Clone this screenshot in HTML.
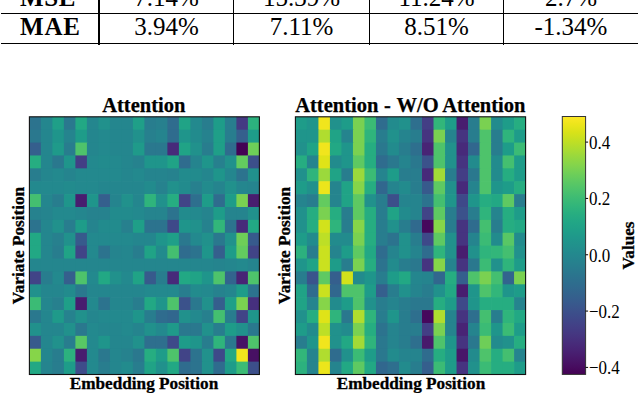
<!DOCTYPE html>
<html><head><meta charset="utf-8"><style>
html,body{margin:0;padding:0;background:#fff;}
body{width:640px;height:393px;position:relative;overflow:hidden;font-family:"Liberation Serif",serif;color:#000;}
.hl{position:absolute;left:1.3px;width:637px;height:1.3px;background:#000;}
.vl{position:absolute;top:0;height:44.5px;width:1.25px;background:#000;}
.x{position:absolute;white-space:nowrap;line-height:1;}
.cc{position:absolute;white-space:nowrap;font-size:25px;line-height:25px;text-align:center;}
.t{position:absolute;white-space:nowrap;font-weight:bold;-webkit-text-stroke:0.25px #000;font-size:20.5px;line-height:20px;text-align:center;}
.lab{position:absolute;white-space:nowrap;font-weight:bold;-webkit-text-stroke:0.3px #000;font-size:17.2px;line-height:17px;text-align:center;}
.tl{position:absolute;left:588.8px;white-space:nowrap;font-size:17.5px;line-height:17.5px;transform:scale(0.97,1.1);transform-origin:0 50%;}
</style></head><body>
<div class="hl" style="top:13.1px"></div>
<div class="hl" style="top:43.2px"></div>
<div class="vl" style="left:98.4px"></div>
<div class="vl" style="left:232.8px"></div>
<div class="vl" style="left:368.6px"></div>
<div class="vl" style="left:503.2px"></div>
<div class="x" style="left:20.00px;top:-15.34px;font-size:25px;font-weight:bold;letter-spacing:0.6px;">MSE</div><div class="x" style="left:20.00px;top:13.86px;font-size:25px;font-weight:bold;letter-spacing:0.8px;">MAE</div><div class="cc" style="left:99px;width:135px;top:-15.34px">7.14%</div><div class="cc" style="left:99px;width:135px;top:13.86px">3.94%</div><div class="cc" style="left:234px;width:135px;top:-15.34px">15.39%</div><div class="cc" style="left:234px;width:135px;top:13.86px">7.11%</div><div class="cc" style="left:369px;width:135px;top:-15.34px">11.24%</div><div class="cc" style="left:369px;width:135px;top:13.86px">8.51%</div><div class="cc" style="left:504px;width:134px;top:-15.34px">2.7%</div><div class="cc" style="left:504px;width:134px;top:13.86px">-1.34%</div>
<svg width="640" height="393" viewBox="0 0 640 393" style="position:absolute;left:0;top:0">
<defs><linearGradient id="cb" x1="0" y1="0" x2="0" y2="1"><stop offset="0.000" stop-color="#fde725"/><stop offset="0.031" stop-color="#ece51b"/><stop offset="0.062" stop-color="#d8e219"/><stop offset="0.094" stop-color="#c2df23"/><stop offset="0.125" stop-color="#addc30"/><stop offset="0.156" stop-color="#98d83e"/><stop offset="0.188" stop-color="#84d44b"/><stop offset="0.219" stop-color="#70cf57"/><stop offset="0.250" stop-color="#5ec962"/><stop offset="0.281" stop-color="#4ec36b"/><stop offset="0.312" stop-color="#3fbc73"/><stop offset="0.344" stop-color="#32b67a"/><stop offset="0.375" stop-color="#28ae80"/><stop offset="0.406" stop-color="#22a785"/><stop offset="0.438" stop-color="#1fa088"/><stop offset="0.469" stop-color="#1f988b"/><stop offset="0.500" stop-color="#21918c"/><stop offset="0.531" stop-color="#23898e"/><stop offset="0.562" stop-color="#26828e"/><stop offset="0.594" stop-color="#297a8e"/><stop offset="0.625" stop-color="#2c728e"/><stop offset="0.656" stop-color="#2f6b8e"/><stop offset="0.688" stop-color="#33638d"/><stop offset="0.719" stop-color="#375b8d"/><stop offset="0.750" stop-color="#3b528b"/><stop offset="0.781" stop-color="#3e4989"/><stop offset="0.812" stop-color="#424086"/><stop offset="0.844" stop-color="#453781"/><stop offset="0.875" stop-color="#472d7b"/><stop offset="0.906" stop-color="#482374"/><stop offset="0.938" stop-color="#48186a"/><stop offset="0.969" stop-color="#470d60"/><stop offset="1.000" stop-color="#440154"/></linearGradient></defs>
<rect x="29.40" y="116.80" width="12.20" height="13.58" fill="#2c738e"/>
<rect x="40.90" y="116.80" width="12.20" height="13.58" fill="#24868e"/>
<rect x="52.40" y="116.80" width="12.20" height="13.58" fill="#1f9f88"/>
<rect x="63.90" y="116.80" width="12.20" height="13.58" fill="#2a788e"/>
<rect x="75.40" y="116.80" width="12.20" height="13.58" fill="#22a884"/>
<rect x="86.90" y="116.80" width="12.20" height="13.58" fill="#24868e"/>
<rect x="98.40" y="116.80" width="12.20" height="13.58" fill="#21918c"/>
<rect x="109.90" y="116.80" width="12.20" height="13.58" fill="#24868e"/>
<rect x="121.40" y="116.80" width="12.20" height="13.58" fill="#24868e"/>
<rect x="132.90" y="116.80" width="12.20" height="13.58" fill="#1f9f88"/>
<rect x="144.40" y="116.80" width="12.20" height="13.58" fill="#287d8e"/>
<rect x="155.90" y="116.80" width="12.20" height="13.58" fill="#27808e"/>
<rect x="167.40" y="116.80" width="12.20" height="13.58" fill="#2f6c8e"/>
<rect x="178.90" y="116.80" width="12.20" height="13.58" fill="#20a386"/>
<rect x="190.40" y="116.80" width="12.20" height="13.58" fill="#23898e"/>
<rect x="201.90" y="116.80" width="12.20" height="13.58" fill="#287d8e"/>
<rect x="213.40" y="116.80" width="12.20" height="13.58" fill="#1e9c89"/>
<rect x="224.90" y="116.80" width="12.20" height="13.58" fill="#287d8e"/>
<rect x="236.40" y="116.80" width="12.20" height="13.58" fill="#443a83"/>
<rect x="247.90" y="116.80" width="11.50" height="13.58" fill="#2cb17e"/>
<rect x="29.40" y="129.69" width="12.20" height="13.58" fill="#2a788e"/>
<rect x="40.90" y="129.69" width="12.20" height="13.58" fill="#24868e"/>
<rect x="52.40" y="129.69" width="12.20" height="13.58" fill="#1f958b"/>
<rect x="63.90" y="129.69" width="12.20" height="13.58" fill="#25848e"/>
<rect x="75.40" y="129.69" width="12.20" height="13.58" fill="#1e9c89"/>
<rect x="86.90" y="129.69" width="12.20" height="13.58" fill="#24868e"/>
<rect x="98.40" y="129.69" width="12.20" height="13.58" fill="#23898e"/>
<rect x="109.90" y="129.69" width="12.20" height="13.58" fill="#24868e"/>
<rect x="121.40" y="129.69" width="12.20" height="13.58" fill="#24868e"/>
<rect x="132.90" y="129.69" width="12.20" height="13.58" fill="#21918c"/>
<rect x="144.40" y="129.69" width="12.20" height="13.58" fill="#27808e"/>
<rect x="155.90" y="129.69" width="12.20" height="13.58" fill="#25848e"/>
<rect x="167.40" y="129.69" width="12.20" height="13.58" fill="#2f6c8e"/>
<rect x="178.90" y="129.69" width="12.20" height="13.58" fill="#1f958b"/>
<rect x="190.40" y="129.69" width="12.20" height="13.58" fill="#228b8d"/>
<rect x="201.90" y="129.69" width="12.20" height="13.58" fill="#26828e"/>
<rect x="213.40" y="129.69" width="12.20" height="13.58" fill="#1f9f88"/>
<rect x="224.90" y="129.69" width="12.20" height="13.58" fill="#287d8e"/>
<rect x="236.40" y="129.69" width="12.20" height="13.58" fill="#355f8d"/>
<rect x="247.90" y="129.69" width="11.50" height="13.58" fill="#1e9c89"/>
<rect x="29.40" y="142.57" width="12.20" height="13.58" fill="#355f8d"/>
<rect x="40.90" y="142.57" width="12.20" height="13.58" fill="#24868e"/>
<rect x="52.40" y="142.57" width="12.20" height="13.58" fill="#1f9a8a"/>
<rect x="63.90" y="142.57" width="12.20" height="13.58" fill="#287d8e"/>
<rect x="75.40" y="142.57" width="12.20" height="13.58" fill="#4ec36b"/>
<rect x="86.90" y="142.57" width="12.20" height="13.58" fill="#24868e"/>
<rect x="98.40" y="142.57" width="12.20" height="13.58" fill="#23898e"/>
<rect x="109.90" y="142.57" width="12.20" height="13.58" fill="#24868e"/>
<rect x="121.40" y="142.57" width="12.20" height="13.58" fill="#24868e"/>
<rect x="132.90" y="142.57" width="12.20" height="13.58" fill="#1f9a8a"/>
<rect x="144.40" y="142.57" width="12.20" height="13.58" fill="#2a788e"/>
<rect x="155.90" y="142.57" width="12.20" height="13.58" fill="#2a788e"/>
<rect x="167.40" y="142.57" width="12.20" height="13.58" fill="#472a7a"/>
<rect x="178.90" y="142.57" width="12.20" height="13.58" fill="#20a386"/>
<rect x="190.40" y="142.57" width="12.20" height="13.58" fill="#21918c"/>
<rect x="201.90" y="142.57" width="12.20" height="13.58" fill="#287d8e"/>
<rect x="213.40" y="142.57" width="12.20" height="13.58" fill="#1f9f88"/>
<rect x="224.90" y="142.57" width="12.20" height="13.58" fill="#2f6c8e"/>
<rect x="236.40" y="142.57" width="12.20" height="13.58" fill="#440154"/>
<rect x="247.90" y="142.57" width="11.50" height="13.58" fill="#6ece58"/>
<rect x="29.40" y="155.45" width="12.20" height="13.58" fill="#26ad81"/>
<rect x="40.90" y="155.45" width="12.20" height="13.58" fill="#24868e"/>
<rect x="52.40" y="155.45" width="12.20" height="13.58" fill="#2a788e"/>
<rect x="63.90" y="155.45" width="12.20" height="13.58" fill="#1f958b"/>
<rect x="75.40" y="155.45" width="12.20" height="13.58" fill="#433e85"/>
<rect x="86.90" y="155.45" width="12.20" height="13.58" fill="#23898e"/>
<rect x="98.40" y="155.45" width="12.20" height="13.58" fill="#228b8d"/>
<rect x="109.90" y="155.45" width="12.20" height="13.58" fill="#23898e"/>
<rect x="121.40" y="155.45" width="12.20" height="13.58" fill="#24868e"/>
<rect x="132.90" y="155.45" width="12.20" height="13.58" fill="#26828e"/>
<rect x="144.40" y="155.45" width="12.20" height="13.58" fill="#1f958b"/>
<rect x="155.90" y="155.45" width="12.20" height="13.58" fill="#1f958b"/>
<rect x="167.40" y="155.45" width="12.20" height="13.58" fill="#20a386"/>
<rect x="178.90" y="155.45" width="12.20" height="13.58" fill="#2f6c8e"/>
<rect x="190.40" y="155.45" width="12.20" height="13.58" fill="#25848e"/>
<rect x="201.90" y="155.45" width="12.20" height="13.58" fill="#1f958b"/>
<rect x="213.40" y="155.45" width="12.20" height="13.58" fill="#27808e"/>
<rect x="224.90" y="155.45" width="12.20" height="13.58" fill="#21918c"/>
<rect x="236.40" y="155.45" width="12.20" height="13.58" fill="#63cb5f"/>
<rect x="247.90" y="155.45" width="11.50" height="13.58" fill="#3c4f8a"/>
<rect x="29.40" y="168.34" width="12.20" height="13.58" fill="#287d8e"/>
<rect x="40.90" y="168.34" width="12.20" height="13.58" fill="#24868e"/>
<rect x="52.40" y="168.34" width="12.20" height="13.58" fill="#23898e"/>
<rect x="63.90" y="168.34" width="12.20" height="13.58" fill="#25848e"/>
<rect x="75.40" y="168.34" width="12.20" height="13.58" fill="#23898e"/>
<rect x="86.90" y="168.34" width="12.20" height="13.58" fill="#23898e"/>
<rect x="98.40" y="168.34" width="12.20" height="13.58" fill="#23898e"/>
<rect x="109.90" y="168.34" width="12.20" height="13.58" fill="#23898e"/>
<rect x="121.40" y="168.34" width="12.20" height="13.58" fill="#24868e"/>
<rect x="132.90" y="168.34" width="12.20" height="13.58" fill="#23898e"/>
<rect x="144.40" y="168.34" width="12.20" height="13.58" fill="#25848e"/>
<rect x="155.90" y="168.34" width="12.20" height="13.58" fill="#25848e"/>
<rect x="167.40" y="168.34" width="12.20" height="13.58" fill="#26828e"/>
<rect x="178.90" y="168.34" width="12.20" height="13.58" fill="#228b8d"/>
<rect x="190.40" y="168.34" width="12.20" height="13.58" fill="#228b8d"/>
<rect x="201.90" y="168.34" width="12.20" height="13.58" fill="#24868e"/>
<rect x="213.40" y="168.34" width="12.20" height="13.58" fill="#1f958b"/>
<rect x="224.90" y="168.34" width="12.20" height="13.58" fill="#24868e"/>
<rect x="236.40" y="168.34" width="12.20" height="13.58" fill="#2c738e"/>
<rect x="247.90" y="168.34" width="11.50" height="13.58" fill="#21918c"/>
<rect x="29.40" y="181.22" width="12.20" height="13.58" fill="#23898e"/>
<rect x="40.90" y="181.22" width="12.20" height="13.58" fill="#23898e"/>
<rect x="52.40" y="181.22" width="12.20" height="13.58" fill="#23898e"/>
<rect x="63.90" y="181.22" width="12.20" height="13.58" fill="#228b8d"/>
<rect x="75.40" y="181.22" width="12.20" height="13.58" fill="#23898e"/>
<rect x="86.90" y="181.22" width="12.20" height="13.58" fill="#23898e"/>
<rect x="98.40" y="181.22" width="12.20" height="13.58" fill="#24868e"/>
<rect x="109.90" y="181.22" width="12.20" height="13.58" fill="#24868e"/>
<rect x="121.40" y="181.22" width="12.20" height="13.58" fill="#24868e"/>
<rect x="132.90" y="181.22" width="12.20" height="13.58" fill="#24868e"/>
<rect x="144.40" y="181.22" width="12.20" height="13.58" fill="#228b8d"/>
<rect x="155.90" y="181.22" width="12.20" height="13.58" fill="#26828e"/>
<rect x="167.40" y="181.22" width="12.20" height="13.58" fill="#21918c"/>
<rect x="178.90" y="181.22" width="12.20" height="13.58" fill="#228b8d"/>
<rect x="190.40" y="181.22" width="12.20" height="13.58" fill="#27808e"/>
<rect x="201.90" y="181.22" width="12.20" height="13.58" fill="#228b8d"/>
<rect x="213.40" y="181.22" width="12.20" height="13.58" fill="#25848e"/>
<rect x="224.90" y="181.22" width="12.20" height="13.58" fill="#21918c"/>
<rect x="236.40" y="181.22" width="12.20" height="13.58" fill="#24868e"/>
<rect x="247.90" y="181.22" width="11.50" height="13.58" fill="#25848e"/>
<rect x="29.40" y="194.11" width="12.20" height="13.58" fill="#44bf70"/>
<rect x="40.90" y="194.11" width="12.20" height="13.58" fill="#24868e"/>
<rect x="52.40" y="194.11" width="12.20" height="13.58" fill="#287d8e"/>
<rect x="63.90" y="194.11" width="12.20" height="13.58" fill="#1f958b"/>
<rect x="75.40" y="194.11" width="12.20" height="13.58" fill="#481d6f"/>
<rect x="86.90" y="194.11" width="12.20" height="13.58" fill="#1f958b"/>
<rect x="98.40" y="194.11" width="12.20" height="13.58" fill="#355f8d"/>
<rect x="109.90" y="194.11" width="12.20" height="13.58" fill="#25848e"/>
<rect x="121.40" y="194.11" width="12.20" height="13.58" fill="#21918c"/>
<rect x="132.90" y="194.11" width="12.20" height="13.58" fill="#24868e"/>
<rect x="144.40" y="194.11" width="12.20" height="13.58" fill="#2fb47c"/>
<rect x="155.90" y="194.11" width="12.20" height="13.58" fill="#21918c"/>
<rect x="167.40" y="194.11" width="12.20" height="13.58" fill="#26ad81"/>
<rect x="178.90" y="194.11" width="12.20" height="13.58" fill="#414487"/>
<rect x="190.40" y="194.11" width="12.20" height="13.58" fill="#2e6f8e"/>
<rect x="201.90" y="194.11" width="12.20" height="13.58" fill="#1e9c89"/>
<rect x="213.40" y="194.11" width="12.20" height="13.58" fill="#2f6c8e"/>
<rect x="224.90" y="194.11" width="12.20" height="13.58" fill="#1e9c89"/>
<rect x="236.40" y="194.11" width="12.20" height="13.58" fill="#7ad151"/>
<rect x="247.90" y="194.11" width="11.50" height="13.58" fill="#481d6f"/>
<rect x="29.40" y="207.00" width="12.20" height="13.58" fill="#26828e"/>
<rect x="40.90" y="207.00" width="12.20" height="13.58" fill="#25848e"/>
<rect x="52.40" y="207.00" width="12.20" height="13.58" fill="#23898e"/>
<rect x="63.90" y="207.00" width="12.20" height="13.58" fill="#23898e"/>
<rect x="75.40" y="207.00" width="12.20" height="13.58" fill="#24868e"/>
<rect x="86.90" y="207.00" width="12.20" height="13.58" fill="#26828e"/>
<rect x="98.40" y="207.00" width="12.20" height="13.58" fill="#26828e"/>
<rect x="109.90" y="207.00" width="12.20" height="13.58" fill="#228b8d"/>
<rect x="121.40" y="207.00" width="12.20" height="13.58" fill="#228b8d"/>
<rect x="132.90" y="207.00" width="12.20" height="13.58" fill="#23898e"/>
<rect x="144.40" y="207.00" width="12.20" height="13.58" fill="#25848e"/>
<rect x="155.90" y="207.00" width="12.20" height="13.58" fill="#25848e"/>
<rect x="167.40" y="207.00" width="12.20" height="13.58" fill="#2c738e"/>
<rect x="178.90" y="207.00" width="12.20" height="13.58" fill="#228b8d"/>
<rect x="190.40" y="207.00" width="12.20" height="13.58" fill="#23898e"/>
<rect x="201.90" y="207.00" width="12.20" height="13.58" fill="#25848e"/>
<rect x="213.40" y="207.00" width="12.20" height="13.58" fill="#1e9c89"/>
<rect x="224.90" y="207.00" width="12.20" height="13.58" fill="#25848e"/>
<rect x="236.40" y="207.00" width="12.20" height="13.58" fill="#25848e"/>
<rect x="247.90" y="207.00" width="11.50" height="13.58" fill="#21918c"/>
<rect x="29.40" y="219.88" width="12.20" height="13.58" fill="#2c738e"/>
<rect x="40.90" y="219.88" width="12.20" height="13.58" fill="#24868e"/>
<rect x="52.40" y="219.88" width="12.20" height="13.58" fill="#21918c"/>
<rect x="63.90" y="219.88" width="12.20" height="13.58" fill="#287d8e"/>
<rect x="75.40" y="219.88" width="12.20" height="13.58" fill="#1e9c89"/>
<rect x="86.90" y="219.88" width="12.20" height="13.58" fill="#25848e"/>
<rect x="98.40" y="219.88" width="12.20" height="13.58" fill="#228b8d"/>
<rect x="109.90" y="219.88" width="12.20" height="13.58" fill="#228b8d"/>
<rect x="121.40" y="219.88" width="12.20" height="13.58" fill="#27808e"/>
<rect x="132.90" y="219.88" width="12.20" height="13.58" fill="#1f9f88"/>
<rect x="144.40" y="219.88" width="12.20" height="13.58" fill="#2c738e"/>
<rect x="155.90" y="219.88" width="12.20" height="13.58" fill="#2c738e"/>
<rect x="167.40" y="219.88" width="12.20" height="13.58" fill="#3e4989"/>
<rect x="178.90" y="219.88" width="12.20" height="13.58" fill="#1f958b"/>
<rect x="190.40" y="219.88" width="12.20" height="13.58" fill="#21918c"/>
<rect x="201.90" y="219.88" width="12.20" height="13.58" fill="#26828e"/>
<rect x="213.40" y="219.88" width="12.20" height="13.58" fill="#32b67a"/>
<rect x="224.90" y="219.88" width="12.20" height="13.58" fill="#2c738e"/>
<rect x="236.40" y="219.88" width="12.20" height="13.58" fill="#472a7a"/>
<rect x="247.90" y="219.88" width="11.50" height="13.58" fill="#22a884"/>
<rect x="29.40" y="232.76" width="12.20" height="13.58" fill="#22a884"/>
<rect x="40.90" y="232.76" width="12.20" height="13.58" fill="#24868e"/>
<rect x="52.40" y="232.76" width="12.20" height="13.58" fill="#27808e"/>
<rect x="63.90" y="232.76" width="12.20" height="13.58" fill="#21918c"/>
<rect x="75.40" y="232.76" width="12.20" height="13.58" fill="#375a8c"/>
<rect x="86.90" y="232.76" width="12.20" height="13.58" fill="#23898e"/>
<rect x="98.40" y="232.76" width="12.20" height="13.58" fill="#23898e"/>
<rect x="109.90" y="232.76" width="12.20" height="13.58" fill="#23898e"/>
<rect x="121.40" y="232.76" width="12.20" height="13.58" fill="#23898e"/>
<rect x="132.90" y="232.76" width="12.20" height="13.58" fill="#24868e"/>
<rect x="144.40" y="232.76" width="12.20" height="13.58" fill="#24868e"/>
<rect x="155.90" y="232.76" width="12.20" height="13.58" fill="#1f958b"/>
<rect x="167.40" y="232.76" width="12.20" height="13.58" fill="#1f9f88"/>
<rect x="178.90" y="232.76" width="12.20" height="13.58" fill="#2a788e"/>
<rect x="190.40" y="232.76" width="12.20" height="13.58" fill="#23898e"/>
<rect x="201.90" y="232.76" width="12.20" height="13.58" fill="#21918c"/>
<rect x="213.40" y="232.76" width="12.20" height="13.58" fill="#2a788e"/>
<rect x="224.90" y="232.76" width="12.20" height="13.58" fill="#21918c"/>
<rect x="236.40" y="232.76" width="12.20" height="13.58" fill="#6ece58"/>
<rect x="247.90" y="232.76" width="11.50" height="13.58" fill="#375a8c"/>
<rect x="29.40" y="245.65" width="12.20" height="13.58" fill="#22a884"/>
<rect x="40.90" y="245.65" width="12.20" height="13.58" fill="#24868e"/>
<rect x="52.40" y="245.65" width="12.20" height="13.58" fill="#287d8e"/>
<rect x="63.90" y="245.65" width="12.20" height="13.58" fill="#20a386"/>
<rect x="75.40" y="245.65" width="12.20" height="13.58" fill="#414487"/>
<rect x="86.90" y="245.65" width="12.20" height="13.58" fill="#23898e"/>
<rect x="98.40" y="245.65" width="12.20" height="13.58" fill="#2c738e"/>
<rect x="109.90" y="245.65" width="12.20" height="13.58" fill="#25848e"/>
<rect x="121.40" y="245.65" width="12.20" height="13.58" fill="#24868e"/>
<rect x="132.90" y="245.65" width="12.20" height="13.58" fill="#287d8e"/>
<rect x="144.40" y="245.65" width="12.20" height="13.58" fill="#20a386"/>
<rect x="155.90" y="245.65" width="12.20" height="13.58" fill="#228b8d"/>
<rect x="167.40" y="245.65" width="12.20" height="13.58" fill="#44bf70"/>
<rect x="178.90" y="245.65" width="12.20" height="13.58" fill="#2f6c8e"/>
<rect x="190.40" y="245.65" width="12.20" height="13.58" fill="#2c738e"/>
<rect x="201.90" y="245.65" width="12.20" height="13.58" fill="#1f958b"/>
<rect x="213.40" y="245.65" width="12.20" height="13.58" fill="#355f8d"/>
<rect x="224.90" y="245.65" width="12.20" height="13.58" fill="#1e9c89"/>
<rect x="236.40" y="245.65" width="12.20" height="13.58" fill="#63cb5f"/>
<rect x="247.90" y="245.65" width="11.50" height="13.58" fill="#414487"/>
<rect x="29.40" y="258.53" width="12.20" height="13.58" fill="#24868e"/>
<rect x="40.90" y="258.53" width="12.20" height="13.58" fill="#24868e"/>
<rect x="52.40" y="258.53" width="12.20" height="13.58" fill="#24868e"/>
<rect x="63.90" y="258.53" width="12.20" height="13.58" fill="#24868e"/>
<rect x="75.40" y="258.53" width="12.20" height="13.58" fill="#24868e"/>
<rect x="86.90" y="258.53" width="12.20" height="13.58" fill="#24868e"/>
<rect x="98.40" y="258.53" width="12.20" height="13.58" fill="#24868e"/>
<rect x="109.90" y="258.53" width="12.20" height="13.58" fill="#24868e"/>
<rect x="121.40" y="258.53" width="12.20" height="13.58" fill="#24868e"/>
<rect x="132.90" y="258.53" width="12.20" height="13.58" fill="#24868e"/>
<rect x="144.40" y="258.53" width="12.20" height="13.58" fill="#24868e"/>
<rect x="155.90" y="258.53" width="12.20" height="13.58" fill="#24868e"/>
<rect x="167.40" y="258.53" width="12.20" height="13.58" fill="#24868e"/>
<rect x="178.90" y="258.53" width="12.20" height="13.58" fill="#24868e"/>
<rect x="190.40" y="258.53" width="12.20" height="13.58" fill="#24868e"/>
<rect x="201.90" y="258.53" width="12.20" height="13.58" fill="#24868e"/>
<rect x="213.40" y="258.53" width="12.20" height="13.58" fill="#25848e"/>
<rect x="224.90" y="258.53" width="12.20" height="13.58" fill="#24868e"/>
<rect x="236.40" y="258.53" width="12.20" height="13.58" fill="#23898e"/>
<rect x="247.90" y="258.53" width="11.50" height="13.58" fill="#25848e"/>
<rect x="29.40" y="271.42" width="12.20" height="13.58" fill="#414487"/>
<rect x="40.90" y="271.42" width="12.20" height="13.58" fill="#287d8e"/>
<rect x="52.40" y="271.42" width="12.20" height="13.58" fill="#23898e"/>
<rect x="63.90" y="271.42" width="12.20" height="13.58" fill="#355f8d"/>
<rect x="75.40" y="271.42" width="12.20" height="13.58" fill="#4ec36b"/>
<rect x="86.90" y="271.42" width="12.20" height="13.58" fill="#23898e"/>
<rect x="98.40" y="271.42" width="12.20" height="13.58" fill="#22a884"/>
<rect x="109.90" y="271.42" width="12.20" height="13.58" fill="#21918c"/>
<rect x="121.40" y="271.42" width="12.20" height="13.58" fill="#23898e"/>
<rect x="132.90" y="271.42" width="12.20" height="13.58" fill="#20a386"/>
<rect x="144.40" y="271.42" width="12.20" height="13.58" fill="#375a8c"/>
<rect x="155.90" y="271.42" width="12.20" height="13.58" fill="#287d8e"/>
<rect x="167.40" y="271.42" width="12.20" height="13.58" fill="#472a7a"/>
<rect x="178.90" y="271.42" width="12.20" height="13.58" fill="#22a884"/>
<rect x="190.40" y="271.42" width="12.20" height="13.58" fill="#20a386"/>
<rect x="201.90" y="271.42" width="12.20" height="13.58" fill="#1f958b"/>
<rect x="213.40" y="271.42" width="12.20" height="13.58" fill="#4ec36b"/>
<rect x="224.90" y="271.42" width="12.20" height="13.58" fill="#32648e"/>
<rect x="236.40" y="271.42" width="12.20" height="13.58" fill="#482475"/>
<rect x="247.90" y="271.42" width="11.50" height="13.58" fill="#4ec36b"/>
<rect x="29.40" y="284.31" width="12.20" height="13.58" fill="#21918c"/>
<rect x="40.90" y="284.31" width="12.20" height="13.58" fill="#24868e"/>
<rect x="52.40" y="284.31" width="12.20" height="13.58" fill="#24868e"/>
<rect x="63.90" y="284.31" width="12.20" height="13.58" fill="#228b8d"/>
<rect x="75.40" y="284.31" width="12.20" height="13.58" fill="#2a788e"/>
<rect x="86.90" y="284.31" width="12.20" height="13.58" fill="#24868e"/>
<rect x="98.40" y="284.31" width="12.20" height="13.58" fill="#24868e"/>
<rect x="109.90" y="284.31" width="12.20" height="13.58" fill="#24868e"/>
<rect x="121.40" y="284.31" width="12.20" height="13.58" fill="#24868e"/>
<rect x="132.90" y="284.31" width="12.20" height="13.58" fill="#24868e"/>
<rect x="144.40" y="284.31" width="12.20" height="13.58" fill="#23898e"/>
<rect x="155.90" y="284.31" width="12.20" height="13.58" fill="#23898e"/>
<rect x="167.40" y="284.31" width="12.20" height="13.58" fill="#23898e"/>
<rect x="178.90" y="284.31" width="12.20" height="13.58" fill="#287d8e"/>
<rect x="190.40" y="284.31" width="12.20" height="13.58" fill="#228b8d"/>
<rect x="201.90" y="284.31" width="12.20" height="13.58" fill="#23898e"/>
<rect x="213.40" y="284.31" width="12.20" height="13.58" fill="#26828e"/>
<rect x="224.90" y="284.31" width="12.20" height="13.58" fill="#24868e"/>
<rect x="236.40" y="284.31" width="12.20" height="13.58" fill="#1e9c89"/>
<rect x="247.90" y="284.31" width="11.50" height="13.58" fill="#2c738e"/>
<rect x="29.40" y="297.19" width="12.20" height="13.58" fill="#3bbb75"/>
<rect x="40.90" y="297.19" width="12.20" height="13.58" fill="#24868e"/>
<rect x="52.40" y="297.19" width="12.20" height="13.58" fill="#27808e"/>
<rect x="63.90" y="297.19" width="12.20" height="13.58" fill="#1f9f88"/>
<rect x="75.40" y="297.19" width="12.20" height="13.58" fill="#481d6f"/>
<rect x="86.90" y="297.19" width="12.20" height="13.58" fill="#23898e"/>
<rect x="98.40" y="297.19" width="12.20" height="13.58" fill="#2c738e"/>
<rect x="109.90" y="297.19" width="12.20" height="13.58" fill="#24868e"/>
<rect x="121.40" y="297.19" width="12.20" height="13.58" fill="#24868e"/>
<rect x="132.90" y="297.19" width="12.20" height="13.58" fill="#287d8e"/>
<rect x="144.40" y="297.19" width="12.20" height="13.58" fill="#22a884"/>
<rect x="155.90" y="297.19" width="12.20" height="13.58" fill="#1f958b"/>
<rect x="167.40" y="297.19" width="12.20" height="13.58" fill="#4ec36b"/>
<rect x="178.90" y="297.19" width="12.20" height="13.58" fill="#3b528b"/>
<rect x="190.40" y="297.19" width="12.20" height="13.58" fill="#2a788e"/>
<rect x="201.90" y="297.19" width="12.20" height="13.58" fill="#21918c"/>
<rect x="213.40" y="297.19" width="12.20" height="13.58" fill="#355f8d"/>
<rect x="224.90" y="297.19" width="12.20" height="13.58" fill="#1f9f88"/>
<rect x="236.40" y="297.19" width="12.20" height="13.58" fill="#7ad151"/>
<rect x="247.90" y="297.19" width="11.50" height="13.58" fill="#46307e"/>
<rect x="29.40" y="310.07" width="12.20" height="13.58" fill="#2a788e"/>
<rect x="40.90" y="310.07" width="12.20" height="13.58" fill="#24868e"/>
<rect x="52.40" y="310.07" width="12.20" height="13.58" fill="#1f9a8a"/>
<rect x="63.90" y="310.07" width="12.20" height="13.58" fill="#26828e"/>
<rect x="75.40" y="310.07" width="12.20" height="13.58" fill="#21918c"/>
<rect x="86.90" y="310.07" width="12.20" height="13.58" fill="#24868e"/>
<rect x="98.40" y="310.07" width="12.20" height="13.58" fill="#23898e"/>
<rect x="109.90" y="310.07" width="12.20" height="13.58" fill="#23898e"/>
<rect x="121.40" y="310.07" width="12.20" height="13.58" fill="#23898e"/>
<rect x="132.90" y="310.07" width="12.20" height="13.58" fill="#1f958b"/>
<rect x="144.40" y="310.07" width="12.20" height="13.58" fill="#287d8e"/>
<rect x="155.90" y="310.07" width="12.20" height="13.58" fill="#2f6c8e"/>
<rect x="167.40" y="310.07" width="12.20" height="13.58" fill="#31678e"/>
<rect x="178.90" y="310.07" width="12.20" height="13.58" fill="#21918c"/>
<rect x="190.40" y="310.07" width="12.20" height="13.58" fill="#23898e"/>
<rect x="201.90" y="310.07" width="12.20" height="13.58" fill="#27808e"/>
<rect x="213.40" y="310.07" width="12.20" height="13.58" fill="#44bf70"/>
<rect x="224.90" y="310.07" width="12.20" height="13.58" fill="#287d8e"/>
<rect x="236.40" y="310.07" width="12.20" height="13.58" fill="#414487"/>
<rect x="247.90" y="310.07" width="11.50" height="13.58" fill="#1f958b"/>
<rect x="29.40" y="322.96" width="12.20" height="13.58" fill="#21918c"/>
<rect x="40.90" y="322.96" width="12.20" height="13.58" fill="#24868e"/>
<rect x="52.40" y="322.96" width="12.20" height="13.58" fill="#24868e"/>
<rect x="63.90" y="322.96" width="12.20" height="13.58" fill="#21918c"/>
<rect x="75.40" y="322.96" width="12.20" height="13.58" fill="#2a788e"/>
<rect x="86.90" y="322.96" width="12.20" height="13.58" fill="#23898e"/>
<rect x="98.40" y="322.96" width="12.20" height="13.58" fill="#24868e"/>
<rect x="109.90" y="322.96" width="12.20" height="13.58" fill="#24868e"/>
<rect x="121.40" y="322.96" width="12.20" height="13.58" fill="#23898e"/>
<rect x="132.90" y="322.96" width="12.20" height="13.58" fill="#25848e"/>
<rect x="144.40" y="322.96" width="12.20" height="13.58" fill="#21918c"/>
<rect x="155.90" y="322.96" width="12.20" height="13.58" fill="#23898e"/>
<rect x="167.40" y="322.96" width="12.20" height="13.58" fill="#1f9a8a"/>
<rect x="178.90" y="322.96" width="12.20" height="13.58" fill="#2a788e"/>
<rect x="190.40" y="322.96" width="12.20" height="13.58" fill="#2a788e"/>
<rect x="201.90" y="322.96" width="12.20" height="13.58" fill="#21918c"/>
<rect x="213.40" y="322.96" width="12.20" height="13.58" fill="#287d8e"/>
<rect x="224.90" y="322.96" width="12.20" height="13.58" fill="#1e9c89"/>
<rect x="236.40" y="322.96" width="12.20" height="13.58" fill="#21918c"/>
<rect x="247.90" y="322.96" width="11.50" height="13.58" fill="#2a788e"/>
<rect x="29.40" y="335.84" width="12.20" height="13.58" fill="#375a8c"/>
<rect x="40.90" y="335.84" width="12.20" height="13.58" fill="#24868e"/>
<rect x="52.40" y="335.84" width="12.20" height="13.58" fill="#21918c"/>
<rect x="63.90" y="335.84" width="12.20" height="13.58" fill="#287d8e"/>
<rect x="75.40" y="335.84" width="12.20" height="13.58" fill="#58c765"/>
<rect x="86.90" y="335.84" width="12.20" height="13.58" fill="#23898e"/>
<rect x="98.40" y="335.84" width="12.20" height="13.58" fill="#1f958b"/>
<rect x="109.90" y="335.84" width="12.20" height="13.58" fill="#24868e"/>
<rect x="121.40" y="335.84" width="12.20" height="13.58" fill="#24868e"/>
<rect x="132.90" y="335.84" width="12.20" height="13.58" fill="#21918c"/>
<rect x="144.40" y="335.84" width="12.20" height="13.58" fill="#2e6f8e"/>
<rect x="155.90" y="335.84" width="12.20" height="13.58" fill="#2e6f8e"/>
<rect x="167.40" y="335.84" width="12.20" height="13.58" fill="#3e4989"/>
<rect x="178.90" y="335.84" width="12.20" height="13.58" fill="#1e9c89"/>
<rect x="190.40" y="335.84" width="12.20" height="13.58" fill="#1f958b"/>
<rect x="201.90" y="335.84" width="12.20" height="13.58" fill="#287d8e"/>
<rect x="213.40" y="335.84" width="12.20" height="13.58" fill="#2fb47c"/>
<rect x="224.90" y="335.84" width="12.20" height="13.58" fill="#2a788e"/>
<rect x="236.40" y="335.84" width="12.20" height="13.58" fill="#471365"/>
<rect x="247.90" y="335.84" width="11.50" height="13.58" fill="#4ec36b"/>
<rect x="29.40" y="348.73" width="12.20" height="13.58" fill="#86d549"/>
<rect x="40.90" y="348.73" width="12.20" height="13.58" fill="#24868e"/>
<rect x="52.40" y="348.73" width="12.20" height="13.58" fill="#287d8e"/>
<rect x="63.90" y="348.73" width="12.20" height="13.58" fill="#2cb17e"/>
<rect x="75.40" y="348.73" width="12.20" height="13.58" fill="#481d6f"/>
<rect x="86.90" y="348.73" width="12.20" height="13.58" fill="#23898e"/>
<rect x="98.40" y="348.73" width="12.20" height="13.58" fill="#2a788e"/>
<rect x="109.90" y="348.73" width="12.20" height="13.58" fill="#24868e"/>
<rect x="121.40" y="348.73" width="12.20" height="13.58" fill="#26828e"/>
<rect x="132.90" y="348.73" width="12.20" height="13.58" fill="#2a788e"/>
<rect x="144.40" y="348.73" width="12.20" height="13.58" fill="#26ad81"/>
<rect x="155.90" y="348.73" width="12.20" height="13.58" fill="#1e9c89"/>
<rect x="167.40" y="348.73" width="12.20" height="13.58" fill="#4ec36b"/>
<rect x="178.90" y="348.73" width="12.20" height="13.58" fill="#414487"/>
<rect x="190.40" y="348.73" width="12.20" height="13.58" fill="#2c738e"/>
<rect x="201.90" y="348.73" width="12.20" height="13.58" fill="#21918c"/>
<rect x="213.40" y="348.73" width="12.20" height="13.58" fill="#3e4989"/>
<rect x="224.90" y="348.73" width="12.20" height="13.58" fill="#22a884"/>
<rect x="236.40" y="348.73" width="12.20" height="13.58" fill="#f1e51d"/>
<rect x="247.90" y="348.73" width="11.50" height="13.58" fill="#471063"/>
<rect x="29.40" y="361.62" width="12.20" height="12.88" fill="#22a884"/>
<rect x="40.90" y="361.62" width="12.20" height="12.88" fill="#25848e"/>
<rect x="52.40" y="361.62" width="12.20" height="12.88" fill="#287d8e"/>
<rect x="63.90" y="361.62" width="12.20" height="12.88" fill="#1e9c89"/>
<rect x="75.40" y="361.62" width="12.20" height="12.88" fill="#3e4c8a"/>
<rect x="86.90" y="361.62" width="12.20" height="12.88" fill="#23898e"/>
<rect x="98.40" y="361.62" width="12.20" height="12.88" fill="#287d8e"/>
<rect x="109.90" y="361.62" width="12.20" height="12.88" fill="#24868e"/>
<rect x="121.40" y="361.62" width="12.20" height="12.88" fill="#228b8d"/>
<rect x="132.90" y="361.62" width="12.20" height="12.88" fill="#287d8e"/>
<rect x="144.40" y="361.62" width="12.20" height="12.88" fill="#20a386"/>
<rect x="155.90" y="361.62" width="12.20" height="12.88" fill="#21918c"/>
<rect x="167.40" y="361.62" width="12.20" height="12.88" fill="#22a884"/>
<rect x="178.90" y="361.62" width="12.20" height="12.88" fill="#2f6c8e"/>
<rect x="190.40" y="361.62" width="12.20" height="12.88" fill="#2c738e"/>
<rect x="201.90" y="361.62" width="12.20" height="12.88" fill="#21918c"/>
<rect x="213.40" y="361.62" width="12.20" height="12.88" fill="#2f6c8e"/>
<rect x="224.90" y="361.62" width="12.20" height="12.88" fill="#1e9c89"/>
<rect x="236.40" y="361.62" width="12.20" height="12.88" fill="#3bbb75"/>
<rect x="247.90" y="361.62" width="11.50" height="12.88" fill="#3c4f8a"/>
<rect x="29.40" y="116.80" width="230.00" height="257.70" fill="none" stroke="#111" stroke-width="1.1"/>
<rect x="295.40" y="116.80" width="12.21" height="13.58" fill="#1e9c89"/>
<rect x="306.91" y="116.80" width="12.21" height="13.58" fill="#1f958b"/>
<rect x="318.42" y="116.80" width="12.21" height="13.58" fill="#f1e51d"/>
<rect x="329.93" y="116.80" width="12.21" height="13.58" fill="#21918c"/>
<rect x="341.44" y="116.80" width="12.21" height="13.58" fill="#1e9c89"/>
<rect x="352.95" y="116.80" width="12.21" height="13.58" fill="#7ad151"/>
<rect x="364.46" y="116.80" width="12.21" height="13.58" fill="#3bbb75"/>
<rect x="375.97" y="116.80" width="12.21" height="13.58" fill="#2f6c8e"/>
<rect x="387.48" y="116.80" width="12.21" height="13.58" fill="#228b8d"/>
<rect x="398.99" y="116.80" width="12.21" height="13.58" fill="#21918c"/>
<rect x="410.50" y="116.80" width="12.21" height="13.58" fill="#2e6f8e"/>
<rect x="422.01" y="116.80" width="12.21" height="13.58" fill="#433e85"/>
<rect x="433.52" y="116.80" width="12.21" height="13.58" fill="#32b67a"/>
<rect x="445.03" y="116.80" width="12.21" height="13.58" fill="#1e9c89"/>
<rect x="456.54" y="116.80" width="12.21" height="13.58" fill="#481d6f"/>
<rect x="468.05" y="116.80" width="12.21" height="13.58" fill="#287d8e"/>
<rect x="479.56" y="116.80" width="12.21" height="13.58" fill="#7ad151"/>
<rect x="491.07" y="116.80" width="12.21" height="13.58" fill="#228b8d"/>
<rect x="502.58" y="116.80" width="12.21" height="13.58" fill="#1e9c89"/>
<rect x="514.09" y="116.80" width="11.51" height="13.58" fill="#26ad81"/>
<rect x="295.40" y="129.69" width="12.21" height="13.58" fill="#1f958b"/>
<rect x="306.91" y="129.69" width="12.21" height="13.58" fill="#1f958b"/>
<rect x="318.42" y="129.69" width="12.21" height="13.58" fill="#b0dd2f"/>
<rect x="329.93" y="129.69" width="12.21" height="13.58" fill="#20a386"/>
<rect x="341.44" y="129.69" width="12.21" height="13.58" fill="#25848e"/>
<rect x="352.95" y="129.69" width="12.21" height="13.58" fill="#7ad151"/>
<rect x="364.46" y="129.69" width="12.21" height="13.58" fill="#2fb47c"/>
<rect x="375.97" y="129.69" width="12.21" height="13.58" fill="#287d8e"/>
<rect x="387.48" y="129.69" width="12.21" height="13.58" fill="#21918c"/>
<rect x="398.99" y="129.69" width="12.21" height="13.58" fill="#25848e"/>
<rect x="410.50" y="129.69" width="12.21" height="13.58" fill="#287d8e"/>
<rect x="422.01" y="129.69" width="12.21" height="13.58" fill="#463480"/>
<rect x="433.52" y="129.69" width="12.21" height="13.58" fill="#7ad151"/>
<rect x="445.03" y="129.69" width="12.21" height="13.58" fill="#25848e"/>
<rect x="456.54" y="129.69" width="12.21" height="13.58" fill="#463480"/>
<rect x="468.05" y="129.69" width="12.21" height="13.58" fill="#287d8e"/>
<rect x="479.56" y="129.69" width="12.21" height="13.58" fill="#4ec36b"/>
<rect x="491.07" y="129.69" width="12.21" height="13.58" fill="#287d8e"/>
<rect x="502.58" y="129.69" width="12.21" height="13.58" fill="#2fb47c"/>
<rect x="514.09" y="129.69" width="11.51" height="13.58" fill="#1e9c89"/>
<rect x="295.40" y="142.57" width="12.21" height="13.58" fill="#21918c"/>
<rect x="306.91" y="142.57" width="12.21" height="13.58" fill="#20a386"/>
<rect x="318.42" y="142.57" width="12.21" height="13.58" fill="#f1e51d"/>
<rect x="329.93" y="142.57" width="12.21" height="13.58" fill="#22a884"/>
<rect x="341.44" y="142.57" width="12.21" height="13.58" fill="#1f958b"/>
<rect x="352.95" y="142.57" width="12.21" height="13.58" fill="#7ad151"/>
<rect x="364.46" y="142.57" width="12.21" height="13.58" fill="#26ad81"/>
<rect x="375.97" y="142.57" width="12.21" height="13.58" fill="#2a788e"/>
<rect x="387.48" y="142.57" width="12.21" height="13.58" fill="#228b8d"/>
<rect x="398.99" y="142.57" width="12.21" height="13.58" fill="#287d8e"/>
<rect x="410.50" y="142.57" width="12.21" height="13.58" fill="#2e6f8e"/>
<rect x="422.01" y="142.57" width="12.21" height="13.58" fill="#482475"/>
<rect x="433.52" y="142.57" width="12.21" height="13.58" fill="#4ec36b"/>
<rect x="445.03" y="142.57" width="12.21" height="13.58" fill="#21918c"/>
<rect x="456.54" y="142.57" width="12.21" height="13.58" fill="#472a7a"/>
<rect x="468.05" y="142.57" width="12.21" height="13.58" fill="#31678e"/>
<rect x="479.56" y="142.57" width="12.21" height="13.58" fill="#4ec36b"/>
<rect x="491.07" y="142.57" width="12.21" height="13.58" fill="#287d8e"/>
<rect x="502.58" y="142.57" width="12.21" height="13.58" fill="#1e9c89"/>
<rect x="514.09" y="142.57" width="11.51" height="13.58" fill="#3bbb75"/>
<rect x="295.40" y="155.45" width="12.21" height="13.58" fill="#26ad81"/>
<rect x="306.91" y="155.45" width="12.21" height="13.58" fill="#25848e"/>
<rect x="318.42" y="155.45" width="12.21" height="13.58" fill="#dfe318"/>
<rect x="329.93" y="155.45" width="12.21" height="13.58" fill="#228b8d"/>
<rect x="341.44" y="155.45" width="12.21" height="13.58" fill="#1f958b"/>
<rect x="352.95" y="155.45" width="12.21" height="13.58" fill="#5ec962"/>
<rect x="364.46" y="155.45" width="12.21" height="13.58" fill="#26ad81"/>
<rect x="375.97" y="155.45" width="12.21" height="13.58" fill="#2f6c8e"/>
<rect x="387.48" y="155.45" width="12.21" height="13.58" fill="#2a788e"/>
<rect x="398.99" y="155.45" width="12.21" height="13.58" fill="#25848e"/>
<rect x="410.50" y="155.45" width="12.21" height="13.58" fill="#2a788e"/>
<rect x="422.01" y="155.45" width="12.21" height="13.58" fill="#3b528b"/>
<rect x="433.52" y="155.45" width="12.21" height="13.58" fill="#4ec36b"/>
<rect x="445.03" y="155.45" width="12.21" height="13.58" fill="#21918c"/>
<rect x="456.54" y="155.45" width="12.21" height="13.58" fill="#463480"/>
<rect x="468.05" y="155.45" width="12.21" height="13.58" fill="#228b8d"/>
<rect x="479.56" y="155.45" width="12.21" height="13.58" fill="#4ec36b"/>
<rect x="491.07" y="155.45" width="12.21" height="13.58" fill="#228b8d"/>
<rect x="502.58" y="155.45" width="12.21" height="13.58" fill="#44bf70"/>
<rect x="514.09" y="155.45" width="11.51" height="13.58" fill="#1e9c89"/>
<rect x="295.40" y="168.34" width="12.21" height="13.58" fill="#21918c"/>
<rect x="306.91" y="168.34" width="12.21" height="13.58" fill="#2fb47c"/>
<rect x="318.42" y="168.34" width="12.21" height="13.58" fill="#9bd93c"/>
<rect x="329.93" y="168.34" width="12.21" height="13.58" fill="#20a386"/>
<rect x="341.44" y="168.34" width="12.21" height="13.58" fill="#287d8e"/>
<rect x="352.95" y="168.34" width="12.21" height="13.58" fill="#9bd93c"/>
<rect x="364.46" y="168.34" width="12.21" height="13.58" fill="#3bbb75"/>
<rect x="375.97" y="168.34" width="12.21" height="13.58" fill="#25848e"/>
<rect x="387.48" y="168.34" width="12.21" height="13.58" fill="#1e9c89"/>
<rect x="398.99" y="168.34" width="12.21" height="13.58" fill="#287d8e"/>
<rect x="410.50" y="168.34" width="12.21" height="13.58" fill="#287d8e"/>
<rect x="422.01" y="168.34" width="12.21" height="13.58" fill="#472a7a"/>
<rect x="433.52" y="168.34" width="12.21" height="13.58" fill="#a2da37"/>
<rect x="445.03" y="168.34" width="12.21" height="13.58" fill="#287d8e"/>
<rect x="456.54" y="168.34" width="12.21" height="13.58" fill="#433e85"/>
<rect x="468.05" y="168.34" width="12.21" height="13.58" fill="#2a788e"/>
<rect x="479.56" y="168.34" width="12.21" height="13.58" fill="#4ec36b"/>
<rect x="491.07" y="168.34" width="12.21" height="13.58" fill="#228b8d"/>
<rect x="502.58" y="168.34" width="12.21" height="13.58" fill="#26ad81"/>
<rect x="514.09" y="168.34" width="11.51" height="13.58" fill="#1e9c89"/>
<rect x="295.40" y="181.22" width="12.21" height="13.58" fill="#1e9c89"/>
<rect x="306.91" y="181.22" width="12.21" height="13.58" fill="#21918c"/>
<rect x="318.42" y="181.22" width="12.21" height="13.58" fill="#ece51b"/>
<rect x="329.93" y="181.22" width="12.21" height="13.58" fill="#25848e"/>
<rect x="341.44" y="181.22" width="12.21" height="13.58" fill="#20a386"/>
<rect x="352.95" y="181.22" width="12.21" height="13.58" fill="#86d549"/>
<rect x="364.46" y="181.22" width="12.21" height="13.58" fill="#26ad81"/>
<rect x="375.97" y="181.22" width="12.21" height="13.58" fill="#31678e"/>
<rect x="387.48" y="181.22" width="12.21" height="13.58" fill="#25848e"/>
<rect x="398.99" y="181.22" width="12.21" height="13.58" fill="#228b8d"/>
<rect x="410.50" y="181.22" width="12.21" height="13.58" fill="#287d8e"/>
<rect x="422.01" y="181.22" width="12.21" height="13.58" fill="#375a8c"/>
<rect x="433.52" y="181.22" width="12.21" height="13.58" fill="#5ec962"/>
<rect x="445.03" y="181.22" width="12.21" height="13.58" fill="#21918c"/>
<rect x="456.54" y="181.22" width="12.21" height="13.58" fill="#472a7a"/>
<rect x="468.05" y="181.22" width="12.21" height="13.58" fill="#25848e"/>
<rect x="479.56" y="181.22" width="12.21" height="13.58" fill="#4ec36b"/>
<rect x="491.07" y="181.22" width="12.21" height="13.58" fill="#1f958b"/>
<rect x="502.58" y="181.22" width="12.21" height="13.58" fill="#1e9c89"/>
<rect x="514.09" y="181.22" width="11.51" height="13.58" fill="#26ad81"/>
<rect x="295.40" y="194.11" width="12.21" height="13.58" fill="#25848e"/>
<rect x="306.91" y="194.11" width="12.21" height="13.58" fill="#287d8e"/>
<rect x="318.42" y="194.11" width="12.21" height="13.58" fill="#63cb5f"/>
<rect x="329.93" y="194.11" width="12.21" height="13.58" fill="#25848e"/>
<rect x="341.44" y="194.11" width="12.21" height="13.58" fill="#20a386"/>
<rect x="352.95" y="194.11" width="12.21" height="13.58" fill="#5ec962"/>
<rect x="364.46" y="194.11" width="12.21" height="13.58" fill="#21918c"/>
<rect x="375.97" y="194.11" width="12.21" height="13.58" fill="#287d8e"/>
<rect x="387.48" y="194.11" width="12.21" height="13.58" fill="#3c4f8a"/>
<rect x="398.99" y="194.11" width="12.21" height="13.58" fill="#25848e"/>
<rect x="410.50" y="194.11" width="12.21" height="13.58" fill="#25848e"/>
<rect x="422.01" y="194.11" width="12.21" height="13.58" fill="#2c738e"/>
<rect x="433.52" y="194.11" width="12.21" height="13.58" fill="#44bf70"/>
<rect x="445.03" y="194.11" width="12.21" height="13.58" fill="#1f958b"/>
<rect x="456.54" y="194.11" width="12.21" height="13.58" fill="#3e4989"/>
<rect x="468.05" y="194.11" width="12.21" height="13.58" fill="#1f958b"/>
<rect x="479.56" y="194.11" width="12.21" height="13.58" fill="#26ad81"/>
<rect x="491.07" y="194.11" width="12.21" height="13.58" fill="#22a884"/>
<rect x="502.58" y="194.11" width="12.21" height="13.58" fill="#5ec962"/>
<rect x="514.09" y="194.11" width="11.51" height="13.58" fill="#287d8e"/>
<rect x="295.40" y="207.00" width="12.21" height="13.58" fill="#21918c"/>
<rect x="306.91" y="207.00" width="12.21" height="13.58" fill="#26ad81"/>
<rect x="318.42" y="207.00" width="12.21" height="13.58" fill="#7ad151"/>
<rect x="329.93" y="207.00" width="12.21" height="13.58" fill="#26ad81"/>
<rect x="341.44" y="207.00" width="12.21" height="13.58" fill="#287d8e"/>
<rect x="352.95" y="207.00" width="12.21" height="13.58" fill="#5ec962"/>
<rect x="364.46" y="207.00" width="12.21" height="13.58" fill="#26ad81"/>
<rect x="375.97" y="207.00" width="12.21" height="13.58" fill="#287d8e"/>
<rect x="387.48" y="207.00" width="12.21" height="13.58" fill="#20a386"/>
<rect x="398.99" y="207.00" width="12.21" height="13.58" fill="#228b8d"/>
<rect x="410.50" y="207.00" width="12.21" height="13.58" fill="#25848e"/>
<rect x="422.01" y="207.00" width="12.21" height="13.58" fill="#414487"/>
<rect x="433.52" y="207.00" width="12.21" height="13.58" fill="#5ec962"/>
<rect x="445.03" y="207.00" width="12.21" height="13.58" fill="#287d8e"/>
<rect x="456.54" y="207.00" width="12.21" height="13.58" fill="#3b528b"/>
<rect x="468.05" y="207.00" width="12.21" height="13.58" fill="#287d8e"/>
<rect x="479.56" y="207.00" width="12.21" height="13.58" fill="#2fb47c"/>
<rect x="491.07" y="207.00" width="12.21" height="13.58" fill="#25848e"/>
<rect x="502.58" y="207.00" width="12.21" height="13.58" fill="#26ad81"/>
<rect x="514.09" y="207.00" width="11.51" height="13.58" fill="#1e9c89"/>
<rect x="295.40" y="219.88" width="12.21" height="13.58" fill="#21918c"/>
<rect x="306.91" y="219.88" width="12.21" height="13.58" fill="#26ad81"/>
<rect x="318.42" y="219.88" width="12.21" height="13.58" fill="#d2e21b"/>
<rect x="329.93" y="219.88" width="12.21" height="13.58" fill="#2fb47c"/>
<rect x="341.44" y="219.88" width="12.21" height="13.58" fill="#287d8e"/>
<rect x="352.95" y="219.88" width="12.21" height="13.58" fill="#86d549"/>
<rect x="364.46" y="219.88" width="12.21" height="13.58" fill="#26ad81"/>
<rect x="375.97" y="219.88" width="12.21" height="13.58" fill="#287d8e"/>
<rect x="387.48" y="219.88" width="12.21" height="13.58" fill="#21918c"/>
<rect x="398.99" y="219.88" width="12.21" height="13.58" fill="#287d8e"/>
<rect x="410.50" y="219.88" width="12.21" height="13.58" fill="#306a8e"/>
<rect x="422.01" y="219.88" width="12.21" height="13.58" fill="#46085c"/>
<rect x="433.52" y="219.88" width="12.21" height="13.58" fill="#86d549"/>
<rect x="445.03" y="219.88" width="12.21" height="13.58" fill="#287d8e"/>
<rect x="456.54" y="219.88" width="12.21" height="13.58" fill="#463480"/>
<rect x="468.05" y="219.88" width="12.21" height="13.58" fill="#2f6c8e"/>
<rect x="479.56" y="219.88" width="12.21" height="13.58" fill="#44bf70"/>
<rect x="491.07" y="219.88" width="12.21" height="13.58" fill="#287d8e"/>
<rect x="502.58" y="219.88" width="12.21" height="13.58" fill="#26ad81"/>
<rect x="514.09" y="219.88" width="11.51" height="13.58" fill="#22a884"/>
<rect x="295.40" y="232.76" width="12.21" height="13.58" fill="#1e9c89"/>
<rect x="306.91" y="232.76" width="12.21" height="13.58" fill="#228b8d"/>
<rect x="318.42" y="232.76" width="12.21" height="13.58" fill="#bddf26"/>
<rect x="329.93" y="232.76" width="12.21" height="13.58" fill="#228b8d"/>
<rect x="341.44" y="232.76" width="12.21" height="13.58" fill="#228b8d"/>
<rect x="352.95" y="232.76" width="12.21" height="13.58" fill="#7ad151"/>
<rect x="364.46" y="232.76" width="12.21" height="13.58" fill="#26ad81"/>
<rect x="375.97" y="232.76" width="12.21" height="13.58" fill="#287d8e"/>
<rect x="387.48" y="232.76" width="12.21" height="13.58" fill="#2c738e"/>
<rect x="398.99" y="232.76" width="12.21" height="13.58" fill="#21918c"/>
<rect x="410.50" y="232.76" width="12.21" height="13.58" fill="#287d8e"/>
<rect x="422.01" y="232.76" width="12.21" height="13.58" fill="#3e4989"/>
<rect x="433.52" y="232.76" width="12.21" height="13.58" fill="#5ec962"/>
<rect x="445.03" y="232.76" width="12.21" height="13.58" fill="#21918c"/>
<rect x="456.54" y="232.76" width="12.21" height="13.58" fill="#463480"/>
<rect x="468.05" y="232.76" width="12.21" height="13.58" fill="#25848e"/>
<rect x="479.56" y="232.76" width="12.21" height="13.58" fill="#3bbb75"/>
<rect x="491.07" y="232.76" width="12.21" height="13.58" fill="#228b8d"/>
<rect x="502.58" y="232.76" width="12.21" height="13.58" fill="#58c765"/>
<rect x="514.09" y="232.76" width="11.51" height="13.58" fill="#228b8d"/>
<rect x="295.40" y="245.65" width="12.21" height="13.58" fill="#2cb17e"/>
<rect x="306.91" y="245.65" width="12.21" height="13.58" fill="#287d8e"/>
<rect x="318.42" y="245.65" width="12.21" height="13.58" fill="#cae11f"/>
<rect x="329.93" y="245.65" width="12.21" height="13.58" fill="#25848e"/>
<rect x="341.44" y="245.65" width="12.21" height="13.58" fill="#1e9c89"/>
<rect x="352.95" y="245.65" width="12.21" height="13.58" fill="#5ec962"/>
<rect x="364.46" y="245.65" width="12.21" height="13.58" fill="#22a884"/>
<rect x="375.97" y="245.65" width="12.21" height="13.58" fill="#2f6c8e"/>
<rect x="387.48" y="245.65" width="12.21" height="13.58" fill="#25848e"/>
<rect x="398.99" y="245.65" width="12.21" height="13.58" fill="#21918c"/>
<rect x="410.50" y="245.65" width="12.21" height="13.58" fill="#25848e"/>
<rect x="422.01" y="245.65" width="12.21" height="13.58" fill="#2f6c8e"/>
<rect x="433.52" y="245.65" width="12.21" height="13.58" fill="#2fb47c"/>
<rect x="445.03" y="245.65" width="12.21" height="13.58" fill="#21918c"/>
<rect x="456.54" y="245.65" width="12.21" height="13.58" fill="#481d6f"/>
<rect x="468.05" y="245.65" width="12.21" height="13.58" fill="#21918c"/>
<rect x="479.56" y="245.65" width="12.21" height="13.58" fill="#2fb47c"/>
<rect x="491.07" y="245.65" width="12.21" height="13.58" fill="#32b67a"/>
<rect x="502.58" y="245.65" width="12.21" height="13.58" fill="#44bf70"/>
<rect x="514.09" y="245.65" width="11.51" height="13.58" fill="#21918c"/>
<rect x="295.40" y="258.53" width="12.21" height="13.58" fill="#1f958b"/>
<rect x="306.91" y="258.53" width="12.21" height="13.58" fill="#20a386"/>
<rect x="318.42" y="258.53" width="12.21" height="13.58" fill="#cae11f"/>
<rect x="329.93" y="258.53" width="12.21" height="13.58" fill="#1e9c89"/>
<rect x="341.44" y="258.53" width="12.21" height="13.58" fill="#287d8e"/>
<rect x="352.95" y="258.53" width="12.21" height="13.58" fill="#7ad151"/>
<rect x="364.46" y="258.53" width="12.21" height="13.58" fill="#26ad81"/>
<rect x="375.97" y="258.53" width="12.21" height="13.58" fill="#2c738e"/>
<rect x="387.48" y="258.53" width="12.21" height="13.58" fill="#228b8d"/>
<rect x="398.99" y="258.53" width="12.21" height="13.58" fill="#287d8e"/>
<rect x="410.50" y="258.53" width="12.21" height="13.58" fill="#2a788e"/>
<rect x="422.01" y="258.53" width="12.21" height="13.58" fill="#463480"/>
<rect x="433.52" y="258.53" width="12.21" height="13.58" fill="#86d549"/>
<rect x="445.03" y="258.53" width="12.21" height="13.58" fill="#25848e"/>
<rect x="456.54" y="258.53" width="12.21" height="13.58" fill="#463480"/>
<rect x="468.05" y="258.53" width="12.21" height="13.58" fill="#2a788e"/>
<rect x="479.56" y="258.53" width="12.21" height="13.58" fill="#3bbb75"/>
<rect x="491.07" y="258.53" width="12.21" height="13.58" fill="#21918c"/>
<rect x="502.58" y="258.53" width="12.21" height="13.58" fill="#2fb47c"/>
<rect x="514.09" y="258.53" width="11.51" height="13.58" fill="#1e9c89"/>
<rect x="295.40" y="271.42" width="12.21" height="13.58" fill="#287d8e"/>
<rect x="306.91" y="271.42" width="12.21" height="13.58" fill="#3a548c"/>
<rect x="318.42" y="271.42" width="12.21" height="13.58" fill="#5ec962"/>
<rect x="329.93" y="271.42" width="12.21" height="13.58" fill="#355f8d"/>
<rect x="341.44" y="271.42" width="12.21" height="13.58" fill="#d2e21b"/>
<rect x="352.95" y="271.42" width="12.21" height="13.58" fill="#228b8d"/>
<rect x="364.46" y="271.42" width="12.21" height="13.58" fill="#1f958b"/>
<rect x="375.97" y="271.42" width="12.21" height="13.58" fill="#287d8e"/>
<rect x="387.48" y="271.42" width="12.21" height="13.58" fill="#1e9c89"/>
<rect x="398.99" y="271.42" width="12.21" height="13.58" fill="#22a884"/>
<rect x="410.50" y="271.42" width="12.21" height="13.58" fill="#24868e"/>
<rect x="422.01" y="271.42" width="12.21" height="13.58" fill="#25848e"/>
<rect x="433.52" y="271.42" width="12.21" height="13.58" fill="#31678e"/>
<rect x="445.03" y="271.42" width="12.21" height="13.58" fill="#26ad81"/>
<rect x="456.54" y="271.42" width="12.21" height="13.58" fill="#355f8d"/>
<rect x="468.05" y="271.42" width="12.21" height="13.58" fill="#4ec36b"/>
<rect x="479.56" y="271.42" width="12.21" height="13.58" fill="#7ad151"/>
<rect x="491.07" y="271.42" width="12.21" height="13.58" fill="#44bf70"/>
<rect x="502.58" y="271.42" width="12.21" height="13.58" fill="#32648e"/>
<rect x="514.09" y="271.42" width="11.51" height="13.58" fill="#7ad151"/>
<rect x="295.40" y="284.31" width="12.21" height="13.58" fill="#20a386"/>
<rect x="306.91" y="284.31" width="12.21" height="13.58" fill="#2f6c8e"/>
<rect x="318.42" y="284.31" width="12.21" height="13.58" fill="#cae11f"/>
<rect x="329.93" y="284.31" width="12.21" height="13.58" fill="#31678e"/>
<rect x="341.44" y="284.31" width="12.21" height="13.58" fill="#4ec36b"/>
<rect x="352.95" y="284.31" width="12.21" height="13.58" fill="#4ec36b"/>
<rect x="364.46" y="284.31" width="12.21" height="13.58" fill="#1e9c89"/>
<rect x="375.97" y="284.31" width="12.21" height="13.58" fill="#355f8d"/>
<rect x="387.48" y="284.31" width="12.21" height="13.58" fill="#287d8e"/>
<rect x="398.99" y="284.31" width="12.21" height="13.58" fill="#21918c"/>
<rect x="410.50" y="284.31" width="12.21" height="13.58" fill="#25848e"/>
<rect x="422.01" y="284.31" width="12.21" height="13.58" fill="#287d8e"/>
<rect x="433.52" y="284.31" width="12.21" height="13.58" fill="#21918c"/>
<rect x="445.03" y="284.31" width="12.21" height="13.58" fill="#22a884"/>
<rect x="456.54" y="284.31" width="12.21" height="13.58" fill="#481d6f"/>
<rect x="468.05" y="284.31" width="12.21" height="13.58" fill="#1f958b"/>
<rect x="479.56" y="284.31" width="12.21" height="13.58" fill="#4ec36b"/>
<rect x="491.07" y="284.31" width="12.21" height="13.58" fill="#32b67a"/>
<rect x="502.58" y="284.31" width="12.21" height="13.58" fill="#1f958b"/>
<rect x="514.09" y="284.31" width="11.51" height="13.58" fill="#1e9c89"/>
<rect x="295.40" y="297.19" width="12.21" height="13.58" fill="#20a386"/>
<rect x="306.91" y="297.19" width="12.21" height="13.58" fill="#25848e"/>
<rect x="318.42" y="297.19" width="12.21" height="13.58" fill="#86d549"/>
<rect x="329.93" y="297.19" width="12.21" height="13.58" fill="#228b8d"/>
<rect x="341.44" y="297.19" width="12.21" height="13.58" fill="#1e9c89"/>
<rect x="352.95" y="297.19" width="12.21" height="13.58" fill="#4ec36b"/>
<rect x="364.46" y="297.19" width="12.21" height="13.58" fill="#21918c"/>
<rect x="375.97" y="297.19" width="12.21" height="13.58" fill="#287d8e"/>
<rect x="387.48" y="297.19" width="12.21" height="13.58" fill="#25848e"/>
<rect x="398.99" y="297.19" width="12.21" height="13.58" fill="#287d8e"/>
<rect x="410.50" y="297.19" width="12.21" height="13.58" fill="#2a788e"/>
<rect x="422.01" y="297.19" width="12.21" height="13.58" fill="#2a788e"/>
<rect x="433.52" y="297.19" width="12.21" height="13.58" fill="#26ad81"/>
<rect x="445.03" y="297.19" width="12.21" height="13.58" fill="#1e9c89"/>
<rect x="456.54" y="297.19" width="12.21" height="13.58" fill="#3e4989"/>
<rect x="468.05" y="297.19" width="12.21" height="13.58" fill="#1f958b"/>
<rect x="479.56" y="297.19" width="12.21" height="13.58" fill="#26ad81"/>
<rect x="491.07" y="297.19" width="12.21" height="13.58" fill="#26ad81"/>
<rect x="502.58" y="297.19" width="12.21" height="13.58" fill="#26ad81"/>
<rect x="514.09" y="297.19" width="11.51" height="13.58" fill="#25848e"/>
<rect x="295.40" y="310.07" width="12.21" height="13.58" fill="#21918c"/>
<rect x="306.91" y="310.07" width="12.21" height="13.58" fill="#26ad81"/>
<rect x="318.42" y="310.07" width="12.21" height="13.58" fill="#dfe318"/>
<rect x="329.93" y="310.07" width="12.21" height="13.58" fill="#2fb47c"/>
<rect x="341.44" y="310.07" width="12.21" height="13.58" fill="#2a788e"/>
<rect x="352.95" y="310.07" width="12.21" height="13.58" fill="#b0dd2f"/>
<rect x="364.46" y="310.07" width="12.21" height="13.58" fill="#2fb47c"/>
<rect x="375.97" y="310.07" width="12.21" height="13.58" fill="#287d8e"/>
<rect x="387.48" y="310.07" width="12.21" height="13.58" fill="#1f958b"/>
<rect x="398.99" y="310.07" width="12.21" height="13.58" fill="#287d8e"/>
<rect x="410.50" y="310.07" width="12.21" height="13.58" fill="#2e6f8e"/>
<rect x="422.01" y="310.07" width="12.21" height="13.58" fill="#46085c"/>
<rect x="433.52" y="310.07" width="12.21" height="13.58" fill="#b0dd2f"/>
<rect x="445.03" y="310.07" width="12.21" height="13.58" fill="#25848e"/>
<rect x="456.54" y="310.07" width="12.21" height="13.58" fill="#463480"/>
<rect x="468.05" y="310.07" width="12.21" height="13.58" fill="#2e6f8e"/>
<rect x="479.56" y="310.07" width="12.21" height="13.58" fill="#44bf70"/>
<rect x="491.07" y="310.07" width="12.21" height="13.58" fill="#287d8e"/>
<rect x="502.58" y="310.07" width="12.21" height="13.58" fill="#2fb47c"/>
<rect x="514.09" y="310.07" width="11.51" height="13.58" fill="#22a884"/>
<rect x="295.40" y="322.96" width="12.21" height="13.58" fill="#1e9c89"/>
<rect x="306.91" y="322.96" width="12.21" height="13.58" fill="#228b8d"/>
<rect x="318.42" y="322.96" width="12.21" height="13.58" fill="#bddf26"/>
<rect x="329.93" y="322.96" width="12.21" height="13.58" fill="#21918c"/>
<rect x="341.44" y="322.96" width="12.21" height="13.58" fill="#228b8d"/>
<rect x="352.95" y="322.96" width="12.21" height="13.58" fill="#7ad151"/>
<rect x="364.46" y="322.96" width="12.21" height="13.58" fill="#26ad81"/>
<rect x="375.97" y="322.96" width="12.21" height="13.58" fill="#2c738e"/>
<rect x="387.48" y="322.96" width="12.21" height="13.58" fill="#25848e"/>
<rect x="398.99" y="322.96" width="12.21" height="13.58" fill="#287d8e"/>
<rect x="410.50" y="322.96" width="12.21" height="13.58" fill="#287d8e"/>
<rect x="422.01" y="322.96" width="12.21" height="13.58" fill="#433e85"/>
<rect x="433.52" y="322.96" width="12.21" height="13.58" fill="#7ad151"/>
<rect x="445.03" y="322.96" width="12.21" height="13.58" fill="#25848e"/>
<rect x="456.54" y="322.96" width="12.21" height="13.58" fill="#482475"/>
<rect x="468.05" y="322.96" width="12.21" height="13.58" fill="#25848e"/>
<rect x="479.56" y="322.96" width="12.21" height="13.58" fill="#3bbb75"/>
<rect x="491.07" y="322.96" width="12.21" height="13.58" fill="#1f958b"/>
<rect x="502.58" y="322.96" width="12.21" height="13.58" fill="#3bbb75"/>
<rect x="514.09" y="322.96" width="11.51" height="13.58" fill="#1e9c89"/>
<rect x="295.40" y="335.84" width="12.21" height="13.58" fill="#287d8e"/>
<rect x="306.91" y="335.84" width="12.21" height="13.58" fill="#1f958b"/>
<rect x="318.42" y="335.84" width="12.21" height="13.58" fill="#f1e51d"/>
<rect x="329.93" y="335.84" width="12.21" height="13.58" fill="#21918c"/>
<rect x="341.44" y="335.84" width="12.21" height="13.58" fill="#22a884"/>
<rect x="352.95" y="335.84" width="12.21" height="13.58" fill="#a2da37"/>
<rect x="364.46" y="335.84" width="12.21" height="13.58" fill="#2fb47c"/>
<rect x="375.97" y="335.84" width="12.21" height="13.58" fill="#2a788e"/>
<rect x="387.48" y="335.84" width="12.21" height="13.58" fill="#25848e"/>
<rect x="398.99" y="335.84" width="12.21" height="13.58" fill="#287d8e"/>
<rect x="410.50" y="335.84" width="12.21" height="13.58" fill="#2e6f8e"/>
<rect x="422.01" y="335.84" width="12.21" height="13.58" fill="#481a6c"/>
<rect x="433.52" y="335.84" width="12.21" height="13.58" fill="#4ec36b"/>
<rect x="445.03" y="335.84" width="12.21" height="13.58" fill="#1f958b"/>
<rect x="456.54" y="335.84" width="12.21" height="13.58" fill="#463480"/>
<rect x="468.05" y="335.84" width="12.21" height="13.58" fill="#2a788e"/>
<rect x="479.56" y="335.84" width="12.21" height="13.58" fill="#6ece58"/>
<rect x="491.07" y="335.84" width="12.21" height="13.58" fill="#228b8d"/>
<rect x="502.58" y="335.84" width="12.21" height="13.58" fill="#21918c"/>
<rect x="514.09" y="335.84" width="11.51" height="13.58" fill="#26ad81"/>
<rect x="295.40" y="348.73" width="12.21" height="13.58" fill="#32b67a"/>
<rect x="306.91" y="348.73" width="12.21" height="13.58" fill="#25848e"/>
<rect x="318.42" y="348.73" width="12.21" height="13.58" fill="#b0dd2f"/>
<rect x="329.93" y="348.73" width="12.21" height="13.58" fill="#2f6c8e"/>
<rect x="341.44" y="348.73" width="12.21" height="13.58" fill="#21918c"/>
<rect x="352.95" y="348.73" width="12.21" height="13.58" fill="#3bbb75"/>
<rect x="364.46" y="348.73" width="12.21" height="13.58" fill="#1e9c89"/>
<rect x="375.97" y="348.73" width="12.21" height="13.58" fill="#2a788e"/>
<rect x="387.48" y="348.73" width="12.21" height="13.58" fill="#228b8d"/>
<rect x="398.99" y="348.73" width="12.21" height="13.58" fill="#25848e"/>
<rect x="410.50" y="348.73" width="12.21" height="13.58" fill="#25848e"/>
<rect x="422.01" y="348.73" width="12.21" height="13.58" fill="#2f6c8e"/>
<rect x="433.52" y="348.73" width="12.21" height="13.58" fill="#26ad81"/>
<rect x="445.03" y="348.73" width="12.21" height="13.58" fill="#1e9c89"/>
<rect x="456.54" y="348.73" width="12.21" height="13.58" fill="#481769"/>
<rect x="468.05" y="348.73" width="12.21" height="13.58" fill="#228b8d"/>
<rect x="479.56" y="348.73" width="12.21" height="13.58" fill="#4ec36b"/>
<rect x="491.07" y="348.73" width="12.21" height="13.58" fill="#26ad81"/>
<rect x="502.58" y="348.73" width="12.21" height="13.58" fill="#44bf70"/>
<rect x="514.09" y="348.73" width="11.51" height="13.58" fill="#25848e"/>
<rect x="295.40" y="361.62" width="12.21" height="12.88" fill="#2cb17e"/>
<rect x="306.91" y="361.62" width="12.21" height="12.88" fill="#25848e"/>
<rect x="318.42" y="361.62" width="12.21" height="12.88" fill="#ece51b"/>
<rect x="329.93" y="361.62" width="12.21" height="12.88" fill="#25848e"/>
<rect x="341.44" y="361.62" width="12.21" height="12.88" fill="#22a884"/>
<rect x="352.95" y="361.62" width="12.21" height="12.88" fill="#5ec962"/>
<rect x="364.46" y="361.62" width="12.21" height="12.88" fill="#22a884"/>
<rect x="375.97" y="361.62" width="12.21" height="12.88" fill="#31678e"/>
<rect x="387.48" y="361.62" width="12.21" height="12.88" fill="#2e6f8e"/>
<rect x="398.99" y="361.62" width="12.21" height="12.88" fill="#228b8d"/>
<rect x="410.50" y="361.62" width="12.21" height="12.88" fill="#287d8e"/>
<rect x="422.01" y="361.62" width="12.21" height="12.88" fill="#355f8d"/>
<rect x="433.52" y="361.62" width="12.21" height="12.88" fill="#3bbb75"/>
<rect x="445.03" y="361.62" width="12.21" height="12.88" fill="#1e9c89"/>
<rect x="456.54" y="361.62" width="12.21" height="12.88" fill="#463480"/>
<rect x="468.05" y="361.62" width="12.21" height="12.88" fill="#21918c"/>
<rect x="479.56" y="361.62" width="12.21" height="12.88" fill="#3bbb75"/>
<rect x="491.07" y="361.62" width="12.21" height="12.88" fill="#26ad81"/>
<rect x="502.58" y="361.62" width="12.21" height="12.88" fill="#26ad81"/>
<rect x="514.09" y="361.62" width="11.51" height="12.88" fill="#1e9c89"/>
<rect x="295.40" y="116.80" width="230.20" height="257.70" fill="none" stroke="#111" stroke-width="1.1"/>
<rect x="562.3" y="116.5" width="23.30" height="257.90" fill="url(#cb)" stroke="#333" stroke-width="1"/>
<line x1="585.60" y1="142.10" x2="588.10" y2="142.10" stroke="#000" stroke-width="1"/><line x1="585.60" y1="198.43" x2="588.10" y2="198.43" stroke="#000" stroke-width="1"/><line x1="585.60" y1="254.75" x2="588.10" y2="254.75" stroke="#000" stroke-width="1"/><line x1="585.60" y1="311.07" x2="588.10" y2="311.07" stroke="#000" stroke-width="1"/><line x1="585.60" y1="367.40" x2="588.10" y2="367.40" stroke="#000" stroke-width="1"/>
</svg>
<div class="t" style="left:43.8px;width:200px;top:95px">Attention</div>
<div class="t" style="left:295.2px;top:95px;text-align:left">Attention</div>
<div class="t" style="left:384.0px;top:95px;text-align:left">-</div>
<div class="t" style="left:396.6px;top:95px;text-align:left">W/O</div>
<div class="t" style="left:442.3px;top:95px;text-align:left">Attention</div>
<div class="lab" style="left:44px;width:200px;top:375px">Embedding Position</div>
<div class="lab" style="left:311px;width:200px;top:375px">Embedding Position</div>
<div class="lab" style="left:-82px;width:200px;top:237px;transform:rotate(-90deg)">Variate Position</div>
<div class="lab" style="left:184px;width:200px;top:237px;transform:rotate(-90deg)">Variate Position</div>
<div class="lab" style="left:528px;width:200px;top:237px;transform:rotate(-90deg)">Values</div>
<div class="tl" style="top:134.05px">0.4</div><div class="tl" style="top:190.38px">0.2</div><div class="tl" style="top:246.70px">0.0</div><div class="tl" style="top:303.02px">−0.2</div><div class="tl" style="top:359.35px">−0.4</div>
</body></html>
